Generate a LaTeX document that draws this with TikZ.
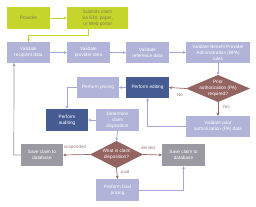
\documentclass[tikz,border=0pt]{standalone}
\usepackage{fontspec}
\setmainfont{Liberation Sans}
\usetikzlibrary{arrows.meta}
\definecolor{cgreen}{HTML}{C5D52B}
\definecolor{cgtext}{HTML}{7E7F50}
\definecolor{clav}{HTML}{B1B3D8}
\definecolor{clavline}{HTML}{A6A8D4}
\definecolor{cdark}{HTML}{455B92}
\definecolor{cbrown}{HTML}{946461}
\definecolor{cgrey}{HTML}{9B99A1}
\definecolor{clabel}{HTML}{9C7B76}
\tikzset{
  bx/.style={rectangle, inner sep=0pt, align=center, font=\fontsize{4.7}{6}\selectfont, text=white, minimum height=21pt, minimum width=43pt},
  gbox/.style={bx, fill=cgreen, text=cgtext, minimum height=22pt},
  lbox/.style={bx, fill=clav},
  dbox/.style={bx, fill=cdark},
  ybox/.style={bx, fill=cgrey, minimum height=22pt},
  dia/.style={rectangle, inner sep=0pt, align=center, font=\fontsize{4.7}{6}\selectfont, text=white,
    path picture={\fill[cbrown] (path picture bounding box.north) -- (path picture bounding box.east) -- (path picture bounding box.south) -- (path picture bounding box.west) -- cycle;}},
  ga/.style={draw=cgreen, line width=0.8pt, -{Stealth[length=3pt,width=3pt]}},
  la/.style={draw=clavline, line width=0.7pt, -{Stealth[length=3pt,width=3pt]}},
  ba/.style={draw=cbrown, line width=0.7pt, -{Stealth[length=3pt,width=3pt]}},
  ya/.style={draw=cgrey, line width=0.7pt, -{Stealth[length=3pt,width=3pt]}},
  lbl/.style={font=\fontsize{4.5}{5}\selectfont, text=clabel, inner sep=0pt},
}
\begin{document}
\begin{tikzpicture}[x=1pt, y=-1pt]
\useasboundingbox[fill=white] (0,0) rectangle (256,206);
\node[gbox] (prov) at (28.5,18) {Provider};
\node[gbox, minimum width=61pt] (sub) at (97.5,18) {Submits claim\\via EDI, paper,\\or Web portal};
\node[lbox] (rec) at (28.5,52.5) {Validate\\recipient data};
\node[lbox] (pro) at (88.5,52.5) {Validate\\provider data};
\node[lbox] (ref) at (147.5,52.5) {Validate\\reference data};
\node[lbox, minimum width=64pt] (bpa) at (218,52.5) {Validate Benefit Provider\\Administration (BPA)\\rules};
\node[dia, minimum width=64pt, minimum height=27pt] (d1) at (218,88.5) {Prior\\authorization (PA)\\required?};
\node[dbox] (pe) at (147.5,87.5) {Perform editing};
\node[lbox, minimum width=42pt] (pp) at (98,87.5) {Perform pricing};
\node[dbox, minimum width=42pt, minimum height=22pt] (pa) at (67,120) {Perform\\auditing};
\node[lbox, minimum height=22pt] (dc) at (117.5,120) {Determine\\claim\\disposition};
\node[lbox, minimum width=64pt] (vpa) at (218,126.5) {Validate prior\\authorization (PA) data};
\node[dia, minimum width=53pt, minimum height=27pt] (d2) at (116.5,154.5) {What is claim\\disposition?};
\node[ybox, minimum width=42pt] (sl) at (42,155) {Save claim to\\database};
\node[ybox] (sr) at (183.5,155) {Save claim to\\database};
\node[lbox, minimum height=22pt] (fp) at (117.5,190) {Perform final\\pricing};
\draw[ga] (prov.east) -- (sub.west);
\draw[ga] ([xshift=-9.5pt]sub.south) -- ++(0,6) -| (rec.north);
\draw[la] (rec.east) -- (pro.west);
\draw[la] (pro.east) -- (ref.west);
\draw[la] (ref.east) -- (bpa.west);
\draw[la] (bpa.south) -- (d1.north);
\draw[ba] (d1.west) -- (pe.east);
\node[lbl] (no) at (180,95) {No};
\draw[ba] (d1.south) -- (vpa.north);
\node[lbl] (yes) at (226,107) {Yes};
\draw[la] (vpa.west) -| (pe.south);
\draw[la] (pe.west) -- (pp.east);
\draw[la] (pp.west) -| (pa.north);
\draw[la] (dc.west) -- (pa.east);
\draw[la] (dc.south) -- (d2.north);
\draw[ba] (d2.west) -- (sl.east);
\node[lbl] (susp) at (75,147.5) {suspended};
\draw[ba] (d2.east) -- (sr.west);
\node[lbl] (den) at (148,148) {denied};
\draw[ba] (d2.south) -- (fp.north);
\node[lbl] (paid) at (125,172) {paid};
\draw[la] (fp.east) -| (sr.south);
\draw[ya] (sl.west) -- ++(-7,0) -- ([xshift=-14.5pt]rec.south);
\end{tikzpicture}
\end{document}
